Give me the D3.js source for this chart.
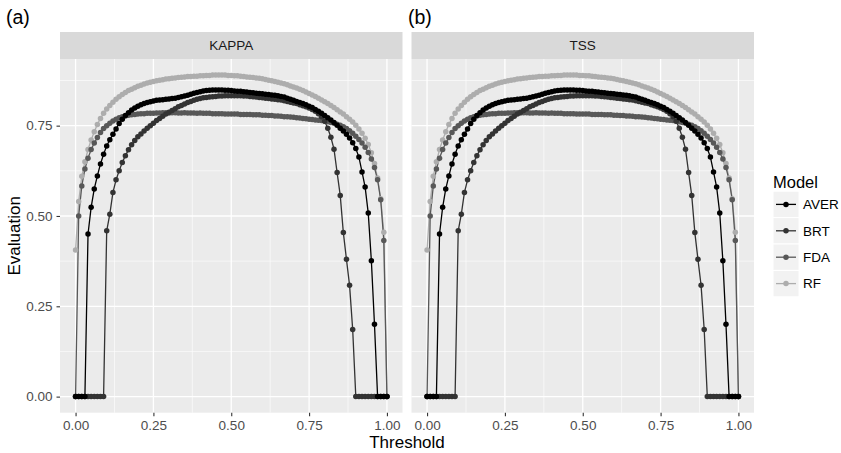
<!DOCTYPE html>
<html>
<head>
<meta charset="utf-8">
<script src="https://cdn.jsdelivr.net/npm/d3@7"></script>
<style>
  body { margin: 0; background: #ffffff; }
  svg { display: block; }
  text { font-family: "Liberation Sans", Arial, Helvetica, sans-serif; }
</style>
</head>
<body>
<svg id="chart" width="841" height="453"></svg>
<script>
// Threshold grid (0.00 .. 1.00 by 0.01)
const thresholds = d3.range(101).map(i => i / 100);

const models = ["AVER", "BRT", "FDA", "RF"];
const metrics = ["KAPPA", "TSS"];
const panelTags = ["(a)", "(b)"];
const xTicks = [0, 0.25, 0.5, 0.75, 1];
const yTicks = [0, 0.25, 0.5, 0.75];

// Evaluation score per threshold, one array per model
const aver = [
  0, 0, 0, 0, 0.450, 0.524, 0.575, 0.611, 0.644, 0.671,
  0.694, 0.711, 0.726, 0.741, 0.756, 0.768, 0.778, 0.786, 0.793, 0.799,
  0.804, 0.808, 0.811, 0.814, 0.816, 0.818, 0.820, 0.821, 0.822, 0.823,
  0.824, 0.825, 0.826, 0.828, 0.830, 0.832, 0.834, 0.837, 0.840, 0.842,
  0.844, 0.846, 0.847, 0.848, 0.849, 0.849, 0.849, 0.849, 0.848, 0.848,
  0.847, 0.846, 0.845, 0.845, 0.844, 0.843, 0.842, 0.841, 0.840, 0.839,
  0.838, 0.837, 0.836, 0.835, 0.834, 0.833, 0.831, 0.829, 0.826, 0.823,
  0.820, 0.817, 0.814, 0.811, 0.808, 0.804, 0.800, 0.795, 0.790, 0.784,
  0.778, 0.772, 0.766, 0.759, 0.751, 0.743, 0.735, 0.726, 0.716, 0.703,
  0.687, 0.663, 0.622, 0.580, 0.508, 0.376, 0.200, 0, 0, 0,
  0
];
const brt = [
  0, 0, 0, 0, 0, 0, 0, 0, 0, 0,
  0.459, 0.505, 0.565, 0.600, 0.625, 0.648, 0.667, 0.683, 0.697, 0.709,
  0.719, 0.727, 0.735, 0.743, 0.750, 0.757, 0.764, 0.770, 0.776, 0.782,
  0.787, 0.792, 0.797, 0.802, 0.806, 0.810, 0.814, 0.817, 0.820, 0.823,
  0.825, 0.827, 0.828, 0.829, 0.830, 0.831, 0.832, 0.832, 0.833, 0.833,
  0.833, 0.833, 0.833, 0.833, 0.832, 0.832, 0.831, 0.830, 0.829, 0.828,
  0.827, 0.826, 0.825, 0.824, 0.823, 0.822, 0.821, 0.819, 0.817, 0.815,
  0.813, 0.811, 0.808, 0.805, 0.802, 0.799, 0.795, 0.790, 0.783, 0.775,
  0.762, 0.743, 0.718, 0.685, 0.620, 0.557, 0.454, 0.380, 0.308, 0.186,
  0, 0, 0, 0, 0, 0, 0, 0, 0, 0,
  0
];
const fda = [
  0, 0.500, 0.583, 0.630, 0.660, 0.684, 0.702, 0.717, 0.731, 0.742,
  0.750, 0.757, 0.763, 0.768, 0.772, 0.775, 0.777, 0.779, 0.780, 0.781,
  0.782, 0.783, 0.783, 0.784, 0.784, 0.784, 0.785, 0.785, 0.786, 0.786,
  0.785, 0.786, 0.786, 0.785, 0.785, 0.786, 0.785, 0.785, 0.785, 0.784,
  0.785, 0.784, 0.784, 0.784, 0.783, 0.783, 0.783, 0.783, 0.782, 0.782,
  0.782, 0.782, 0.782, 0.781, 0.781, 0.781, 0.781, 0.780, 0.780, 0.780,
  0.779, 0.779, 0.778, 0.778, 0.777, 0.777, 0.776, 0.775, 0.775, 0.774,
  0.773, 0.772, 0.771, 0.770, 0.769, 0.768, 0.767, 0.766, 0.765, 0.764,
  0.763, 0.761, 0.759, 0.757, 0.754, 0.751, 0.747, 0.742, 0.736, 0.729,
  0.721, 0.712, 0.702, 0.690, 0.676, 0.658, 0.634, 0.600, 0.545, 0.432,
  0
];
const rf = [
  0.406, 0.540, 0.610, 0.650, 0.684, 0.710, 0.733, 0.753, 0.770, 0.784,
  0.796, 0.806, 0.815, 0.823, 0.830, 0.836, 0.842, 0.847, 0.851, 0.855,
  0.859, 0.862, 0.865, 0.868, 0.870, 0.872, 0.874, 0.876, 0.877, 0.879,
  0.880, 0.881, 0.882, 0.883, 0.884, 0.885, 0.886, 0.886, 0.887, 0.887,
  0.888, 0.888, 0.889, 0.889, 0.890, 0.890, 0.890, 0.890, 0.890, 0.889,
  0.889, 0.888, 0.888, 0.887, 0.886, 0.885, 0.884, 0.883, 0.882, 0.881,
  0.880, 0.878, 0.876, 0.874, 0.872, 0.870, 0.868, 0.866, 0.863, 0.860,
  0.857, 0.854, 0.851, 0.847, 0.843, 0.839, 0.835, 0.831, 0.826, 0.821,
  0.816, 0.811, 0.806, 0.800, 0.794, 0.788, 0.782, 0.775, 0.768, 0.760,
  0.751, 0.741, 0.729, 0.715, 0.698, 0.675, 0.645, 0.605, 0.548, 0.455,
  0
];

// Both metrics give the same curves for this run
const seriesByMetric = {
  KAPPA: { AVER: aver, BRT: brt, FDA: fda, RF: rf },
  TSS:   { AVER: aver, BRT: brt, FDA: fda, RF: rf }
};

const colour = d3.scaleOrdinal()
  .domain(models)
  .range(["#000000", "#333333", "#585858", "#adadad"]);

const svg = d3.select("#chart");
const font = '"Liberation Sans", Arial, Helvetica, sans-serif';

// Panel geometry
const panelW = 342.5;
const panelTop = 59, panelBottom = 412.7;
const stripTop = 32;
const panelLefts = [60, 411.5];
const pointR = 2.75;
const lineW = 1.3;

const y = d3.scaleLinear().domain([-0.0445, 0.9345]).range([panelBottom, panelTop]);
const yMinor = [0.125, 0.375, 0.625, 0.875];
const xMinor = [0.125, 0.375, 0.625, 0.875];

metrics.forEach((metric, i) => {
  const x0 = panelLefts[i];
  const x = d3.scaleLinear().domain([-0.05, 1.05]).range([x0, x0 + panelW]);
  const g = svg.append("g");

  // panel background
  g.append("rect")
    .attr("x", x0).attr("y", panelTop)
    .attr("width", panelW).attr("height", panelBottom - panelTop)
    .attr("fill", "#ebebeb");

  // minor grid
  g.selectAll(".ymin").data(yMinor).enter().append("line")
    .attr("x1", x0).attr("x2", x0 + panelW)
    .attr("y1", d => y(d)).attr("y2", d => y(d))
    .attr("stroke", "#ffffff").attr("stroke-width", 0.6);
  g.selectAll(".xmin").data(xMinor).enter().append("line")
    .attr("y1", panelTop).attr("y2", panelBottom)
    .attr("x1", d => x(d)).attr("x2", d => x(d))
    .attr("stroke", "#ffffff").attr("stroke-width", 0.6);
  // major grid
  g.selectAll(".ymaj").data(yTicks).enter().append("line")
    .attr("x1", x0).attr("x2", x0 + panelW)
    .attr("y1", d => y(d)).attr("y2", d => y(d))
    .attr("stroke", "#ffffff").attr("stroke-width", 1.3);
  g.selectAll(".xmaj").data(xTicks).enter().append("line")
    .attr("y1", panelTop).attr("y2", panelBottom)
    .attr("x1", d => x(d)).attr("x2", d => x(d))
    .attr("stroke", "#ffffff").attr("stroke-width", 1.3);

  // strip
  g.append("rect")
    .attr("x", x0).attr("y", stripTop)
    .attr("width", panelW).attr("height", panelTop - stripTop)
    .attr("fill", "#d9d9d9");
  g.append("text")
    .attr("x", x0 + panelW / 2).attr("y", (stripTop + panelTop) / 2)
    .attr("dy", "0.35em")
    .attr("text-anchor", "middle")
    .attr("font-size", 13.5)
    .attr("fill", "#1a1a1a")
    .text(metric);

  // panel tag
  svg.append("text")
    .attr("x", i === 0 ? 6 : 408).attr("y", 24)
    .attr("font-size", 19.5)
    .attr("fill", "#000")
    .text(panelTags[i]);

  // series: lines first, then points
  const data = seriesByMetric[metric];
  const drawOrder = models.slice().reverse();
  const line = d3.line().x((d, k) => x(thresholds[k])).y(d => y(d));
  drawOrder.forEach(m => {
    g.append("path")
      .datum(data[m])
      .attr("d", line)
      .attr("fill", "none")
      .attr("stroke", colour(m))
      .attr("stroke-width", lineW);
  });
  drawOrder.forEach(m => {
    g.append("g").selectAll("circle")
      .data(data[m])
      .enter().append("circle")
      .attr("cx", (d, k) => x(thresholds[k]))
      .attr("cy", d => y(d))
      .attr("r", pointR)
      .attr("fill", colour(m));
  });

  // x axis
  const xa = g.append("g")
    .attr("transform", `translate(0,${panelBottom})`)
    .call(d3.axisBottom(x).tickValues(xTicks).tickFormat(d3.format(".2f")).tickSize(3.5).tickPadding(4.5));
  xa.select(".domain").remove();
  xa.selectAll("line").attr("stroke", "#333333").attr("stroke-width", 1.1);
  xa.selectAll("text").attr("font-size", 13.5).attr("fill", "#4d4d4d").style("font-family", font);

  if (i === 0) {
    const ya = g.append("g")
      .attr("transform", `translate(${x0},0)`)
      .call(d3.axisLeft(y).tickValues(yTicks).tickFormat(d3.format(".2f")).tickSize(3.5).tickPadding(4));
    ya.select(".domain").remove();
    ya.selectAll("line").attr("stroke", "#333333").attr("stroke-width", 1.1);
    ya.selectAll("text").attr("font-size", 13.5).attr("fill", "#4d4d4d").style("font-family", font);
  }
});

// axis titles
svg.append("text")
  .attr("x", (panelLefts[0] + panelLefts[1] + panelW) / 2).attr("y", 448)
  .attr("text-anchor", "middle")
  .attr("font-size", 17)
  .attr("fill", "#000")
  .text("Threshold");
svg.append("text")
  .attr("transform", `translate(19.5,${(panelTop + panelBottom) / 2}) rotate(-90)`)
  .attr("text-anchor", "middle")
  .attr("font-size", 17)
  .attr("fill", "#000")
  .text("Evaluation");

// legend
const legend = svg.append("g");
legend.append("text")
  .attr("x", 773).attr("y", 188)
  .attr("font-size", 16.5)
  .attr("fill", "#000")
  .text("Model");
const keyTop = 191.2, keyStep = 26.4, keyW = 26;
models.forEach((m, k) => {
  const cy = keyTop + k * keyStep + keyStep / 2;
  legend.append("rect")
    .attr("x", 773).attr("y", keyTop + k * keyStep)
    .attr("width", keyW).attr("height", keyStep)
    .attr("fill", "#f2f2f2").attr("stroke", "#ffffff").attr("stroke-width", 1);
  legend.append("line")
    .attr("x1", 776).attr("x2", 796)
    .attr("y1", cy).attr("y2", cy)
    .attr("stroke", colour(m)).attr("stroke-width", lineW);
  legend.append("circle")
    .attr("cx", 773 + keyW / 2).attr("cy", cy).attr("r", pointR)
    .attr("fill", colour(m));
  legend.append("text")
    .attr("x", 803).attr("y", cy).attr("dy", "0.35em")
    .attr("font-size", 13.5)
    .attr("fill", "#000")
    .text(m);
});
</script>
</body>
</html>
